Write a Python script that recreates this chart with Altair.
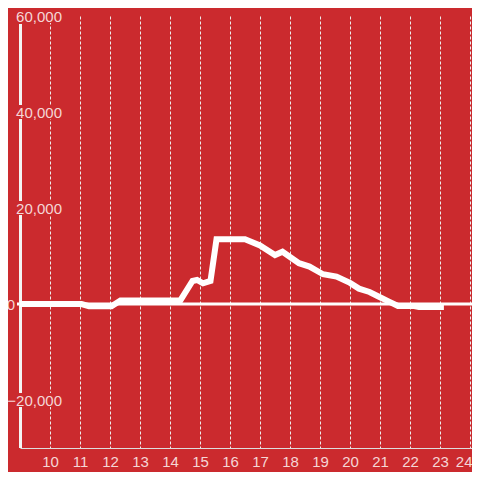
import altair as alt
import pandas as pd

# ---- data ----
hours = [9.0, 11.05, 11.3, 12.05, 12.35, 14.35, 14.75, 14.9, 15.1, 15.35, 15.55,
         16.5, 17.0, 17.5, 17.75, 18.3, 18.65, 19.1, 19.55, 20.0, 20.3, 20.65,
         21.0, 21.3, 21.6, 22.1, 22.3, 23.13]
values = [0, 0, -450, -450, 750, 800, 4800, 5000, 4300, 4800, 13500,
          13500, 12200, 10200, 10900, 8500, 7800, 6200, 5700, 4400, 3200, 2500,
          1400, 500, -400, -400, -650, -650]

x_ticks = list(range(10, 25))
y_grid = [-20000, -10000, 10000, 20000, 30000, 40000, 50000, 60000]
y_labels = [60000, 40000, 20000, -20000]
zero_label = [0]

BG = "#cb2a2e"
LABEL = "#f5d6d6"
FONT = "Liberation Sans"

df = pd.DataFrame({"h": hours, "v": values})
lab_df = pd.DataFrame({"v": y_labels})
zero_df = pd.DataFrame({"v": zero_label})

W, H = 452, 432
xs = alt.Scale(domain=[9, 9 + W / 30], nice=False, zero=False)
ys = alt.Scale(domain=[-30000, 60000], nice=False, zero=False)

x_axis = alt.Axis(values=x_ticks, grid=True, gridDash=[3, 2], gridColor="#ececec",
                  gridWidth=1, domainColor="#dddddd", domainWidth=1, ticks=False,
                  tickSize=0, labelColor=LABEL, labelFontSize=15, labelFont=FONT,
                  labelBaseline="alphabetic", labelPadding=18, labelFlush=3,
                  labelFlushOffset=2, labelOverlap=False, title=None)
y_axis = alt.Axis(values=y_grid, grid=True, gridColor="#d6d6d6", gridWidth=1,
                  domain=False, ticks=False, labels=False, title=None)

zero_rule = alt.Chart(zero_df).mark_rule(color="white", strokeWidth=3).encode(
    y=alt.Y("v:Q", scale=ys, axis=y_axis),
    x=alt.value(-3), x2=alt.value(W))

left_bar = alt.Chart(zero_df).mark_rule(color="#f4f4f4", strokeWidth=3).encode(
    x=alt.value(0.5), y=alt.value(8), y2=alt.value(H))

boxes = alt.Chart(lab_df).mark_rect(color=BG, height=14).encode(
    y=alt.Y("v:Q", scale=ys, axis=None),
    x=alt.value(-12), x2=alt.value(43))

texts = alt.Chart(lab_df).mark_text(align="right", baseline="alphabetic", dy=5.5,
                                    fontSize=15, font=FONT, color=LABEL).encode(
    y=alt.Y("v:Q", scale=ys, axis=None),
    x=alt.value(42),
    text=alt.Text("v:Q", format=","))

zero_text = alt.Chart(zero_df).mark_text(align="right", baseline="alphabetic", dy=5.5,
                                         fontSize=15, font=FONT, color=LABEL).encode(
    y=alt.Y("v:Q", scale=ys, axis=None),
    x=alt.value(-5),
    text=alt.Text("v:Q", format=","))

line = alt.Chart(df).mark_line(color="white", strokeWidth=6, strokeCap="butt").encode(
    x=alt.X("h:Q", scale=xs, axis=x_axis),
    y=alt.Y("v:Q", scale=ys, axis=None))

chart = alt.layer(zero_rule, left_bar, boxes, texts, zero_text, line).properties(
    width=W, height=H,
    autosize=alt.AutoSizeParams(type="none"),
    padding={"left": 12, "top": 8, "right": 0, "bottom": 24},
    background=BG,
).configure_view(stroke=None)

chart.save("out.html", embed_options={"renderer": "svg", "actions": False})
